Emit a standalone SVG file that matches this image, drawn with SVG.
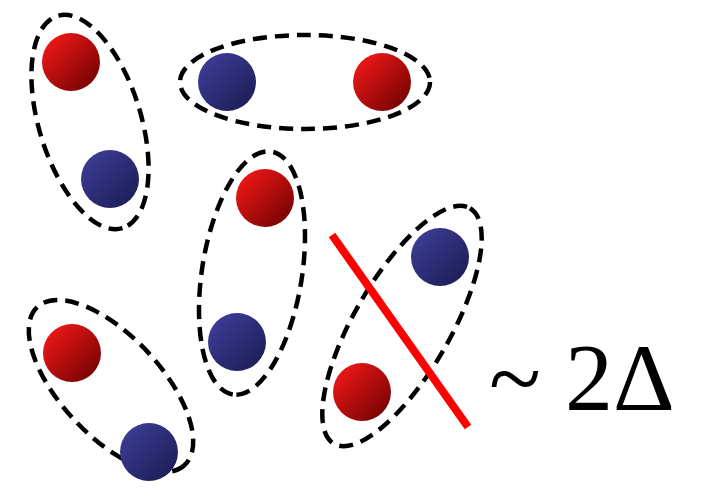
<svg xmlns="http://www.w3.org/2000/svg" width="711" height="499" viewBox="0 0 711 499">
<defs>
<linearGradient id="gr" x1="0" y1="0" x2="1" y2="1">
<stop offset="0" stop-color="#ff1a1a"/>
<stop offset="1" stop-color="#660000"/>
</linearGradient>
<linearGradient id="gb" x1="0" y1="0" x2="1" y2="1">
<stop offset="0" stop-color="#40409e"/>
<stop offset="1" stop-color="#1a1a4e"/>
</linearGradient>
<style>
.r{fill:url(#gr)}
.b{fill:url(#gb)}
.e{fill:none;stroke:#000;stroke-width:4.5;stroke-dasharray:14 8}
</style>
</defs>
<g id="pair1">
<ellipse class="e" cx="90" cy="122" rx="111" ry="51" transform="rotate(73 90 122)"/>
<circle class="r" cx="71" cy="62" r="29"/>
<circle class="b" cx="110" cy="179" r="29"/>
</g>
<g id="pair2">
<ellipse class="e" cx="305" cy="82" rx="125" ry="47"/>
<circle class="b" cx="227" cy="82" r="29"/>
<circle class="r" cx="382" cy="82" r="29"/>
</g>
<g id="pair3">
<ellipse class="e" cx="252" cy="273" rx="123" ry="50" transform="rotate(99 252 273)"/>
<circle class="r" cx="265" cy="198" r="29"/>
<circle class="b" cx="237" cy="342" r="29"/>
</g>
<g id="pair4">
<ellipse class="e" cx="402" cy="326" rx="136" ry="48" transform="rotate(-60 402 326)"/>
<circle class="b" cx="440" cy="257" r="29"/>
<circle class="r" cx="362" cy="392" r="29"/>
</g>
<g id="pair5">
<ellipse class="e" cx="111" cy="386" rx="108" ry="50" transform="rotate(47 111 386)"/>
<circle class="r" cx="72" cy="353" r="29"/>
<circle class="b" cx="149" cy="452" r="29"/>
</g>
<g id="connectors">
<line x1="332" y1="235" x2="468" y2="427" stroke="#ff0000" stroke-width="8"/>
</g>
<g id="label">
<text x="489" y="410" style="font-family:'Liberation Serif','Times New Roman',Times,'DejaVu Serif',serif;font-size:96px" fill="#000">~ 2Δ</text>
</g>
</svg>
